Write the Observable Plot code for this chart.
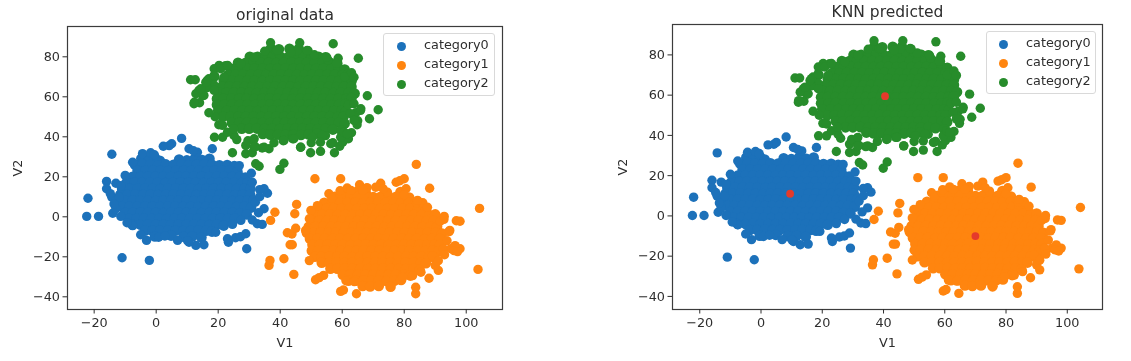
<!DOCTYPE html>
<html>
<head>
<meta charset="utf-8">
<script src="https://cdn.jsdelivr.net/npm/d3@7"></script>
<script src="https://cdn.jsdelivr.net/npm/@observablehq/plot@0.6"></script>
<style>
html,body{margin:0;padding:0;background:#fff}
#page{position:relative;width:1131px;height:361px;overflow:hidden;font-family:"DejaVu Sans",sans-serif;color:#2e2e2e;filter:blur(0.45px)}
#page svg.p{position:absolute;top:0}
.legend{position:absolute;box-sizing:border-box;background:#fff;border:1px solid #d9d9d9;border-radius:3px;font-size:12.8px;height:63px}
.legend div{position:absolute;line-height:14px;white-space:nowrap}
.legend i{position:absolute;width:9px;height:9px;border-radius:50%}
</style>
</head>
<body>
<div id="page"></div>
<script>
const categories = ["category0","category1","category2"];
const colors = ["#1c71ba","#ff850f","#278c2b"];
const xTicks = [-20,0,20,40,60,80,100];
const yTicks = [-40,-20,0,20,40,60,80];
const centers = [[9.5,11],[70,-10],[40.5,59.5]];

const blueEdge = [[-22,9.3],[-22.4,0.2],[-18.6,0.2],[-14.3,31.3],[-11,-20.5],[-2.2,-21.8],[29.2,-16],[8.2,39.2],[5,36.5],[4.2,35.6],[2.3,35.3],[-16,17.7],[-13,16.8],[-16,14],[-14.3,9.8],[-14.8,11.6],[-14,1.8],[-10,20.7],[-7.6,27.3],[-13,4],[-11.4,0.2],[-3.1,-11.8],[6.9,-11.8],[12.8,-14.3],[15.4,-14],[10.6,-12.7],[19.2,-7.7],[23.3,-12.7],[25.6,-10.5],[27.2,-10],[28.9,-8.5],[24.6,-3.8],[27.3,-1.8],[32.6,-3.5],[34.2,-3.8],[34.8,4],[32,7.3],[35.9,11.8],[34.8,14],[33.4,13.6],[31,17.3],[30.7,21.8],[18.1,34],[10.6,34],[13.3,32.3],[12,33],[-4.4,31.6],[-1.8,32],[-0.6,31],[-11.4,15.6],[-11.9,9.8],[-7.6,-4.4],[0.8,-10.2],[10.1,-11.9],[26.8,25.6],[-13.6,6.4],[-9.4,-3],[33,2],[31,-1.6],[33.4,10],[2.8,-9.6],[-5,-9],[23,-11]];
const blueCore = [
[-4.8,29],[-2.5,29.6],[-0.3,29.3],[1.2,28],[7.4,28.6],[9.9,28.2],[12.4,29],[14.8,28.4],[17.2,29],
[-6.8,26],[-4.3,26.3],[-1.9,26],[0.6,25.8],[3.1,26.2],[5.6,26],[8.1,26.1],[10.5,25.9],[13,26],[15.5,26.2],[18,26],[20.4,25.8],[22.9,25.9],[25.2,25.4],
[-6,23],[-3.5,23],[-1,23.1],[1.4,23],[3.9,22.9],[6.4,23],[8.9,23.1],[11.3,23],[13.8,23],[16.3,22.9],[18.8,23],[21.2,23.1],[23.7,23],[26.2,22.8],
[-7.6,20],[-5.1,20],[-2.6,20.1],[-0.2,20],[2.3,20],[4.8,19.9],[7.2,20],[9.7,20.1],[12.2,20],[14.6,20],[17.1,19.9],[19.6,20],[22,20.1],[24.5,20],[27,20],[28.8,19.6],
[-9.6,17],[-7,17],[-4.5,17.1],[-2,17],[0.5,17],[3,16.9],[5.4,17],[7.9,17.1],[10.4,17],[12.8,17],[15.3,16.9],[17.8,17],[20.2,17.1],[22.7,17],[25.2,17],[27.6,16.9],[29.4,17],
[-11,14],[-8.5,14],[-6,14.1],[-3.6,14],[-1.1,14],[1.4,13.9],[3.8,14],[6.3,14.1],[8.8,14],[11.2,14],[13.7,13.9],[16.2,14],[18.6,14.1],[21.1,14],[23.6,14],[26,13.9],[28.5,14],[30.4,14],
[-11.6,11],[-9.2,11],[-6.7,11.1],[-4.2,11],[-1.8,11],[0.7,10.9],[3.2,11],[5.6,11.1],[8.1,11],[10.6,11],[13,10.9],[15.5,11],[18,11.1],[20.4,11],[22.9,11],[25.4,10.9],[27.8,11],[30.3,11],
[-12.2,8],[-10,8],[-7.5,8.1],[-5,8],[-2.6,8],[-0.1,7.9],[2.4,8],[4.8,8.1],[7.3,8],[9.8,8],[12.2,7.9],[14.7,8],[17.2,8.1],[19.6,8],[22.1,8],[24.6,7.9],[27,8],[29.5,8],[31.4,8.2],
[-11,5],[-8.6,5],[-6.1,5.1],[-3.6,5],[-1.2,5],[1.3,4.9],[3.8,5],[6.2,5.1],[8.7,5],[11.2,5],[13.6,4.9],[16.1,5],[18.6,5.1],[21,5],[23.5,5],[26,4.9],[28.4,5],[30.6,4.6],
[-10,2],[-7.5,2],[-5,2.1],[-2.6,2],[-0.1,2],[2.4,1.9],[4.8,2],[7.3,2.1],[9.8,2],[12.2,2],[14.7,1.9],[17.2,2],[19.6,2.1],[22.1,2],[24.6,2],[27,1.6],[29.2,1.2],
[-8.8,-1],[-6.4,-1],[-3.9,-0.9],[-1.4,-1],[1,-1],[3.5,-1.1],[6,-1],[8.4,-0.9],[10.9,-1],[13.4,-1],[15.8,-1.1],[18.3,-1],[20.8,-0.9],[23.2,-1],[25.4,-0.8],
[-7.6,-4],[-5,-4],[-2.6,-3.9],[-0.1,-4],[2.4,-4],[4.8,-4.1],[7.3,-4],[9.8,-3.9],[12.2,-4],[14.7,-4],[17.2,-4.1],[19.6,-4],[21.8,-4.4],
[-3.6,-7],[-1.2,-7],[1.3,-6.9],[3.8,-7],[6.2,-7],[8.7,-7.1],[11.2,-7],[13.6,-6.9],[16.1,-7],[18,-7.4],
[-0.4,-9.8],[4.8,-9.4],[8.8,-10],[11.6,-9.8],[14.6,-10.4]
];
const orangeEdge = [[83.9,26.2],[51.2,19],[59.5,19],[88.2,14.3],[104.3,4.2],[103.8,-26.3],[83.7,-38.5],[83.7,-35.2],[64.6,-38.5],[59.5,-37.3],[60.4,-36.6],[88,-30.7],[44.4,-28.8],[36.4,-24.3],[36.7,-21.8],[41.2,-21],[43.9,-14],[43.2,-14],[42.3,-8],[43.8,-8.6],[45,-5.7],[44.7,1.5],[45.3,6.2],[38.3,2.3],[36.9,-1.8],[98,-2.2],[96.8,-2],[94.7,-6.8],[92.8,-1.3],[91.6,-2.2],[98,-16],[95,-16],[96.4,-14.4],[91,-26.8],[90,-24.3],[80,19],[77.4,17.3],[78.6,18],[72.4,16.8],[70.8,14.8],[74.6,12.3],[73.2,14],[55.7,11.5],[56.6,9.4],[59.3,13],[48.2,-6.8],[51.4,-31.5],[54,-29.3],[52.6,-30.4],[80.6,14],[80,11],[84,7],[86,7],[65.6,16],[61.6,14.4],[68,14.6],[93.8,-12],[92.6,-16],[52,5.6],[49.9,3.2],[49.4,-1],[49.4,-21.9],[61.2,-31.9],[63.9,-32.4],[79.5,-30.2],[82.7,-29.4],[85.4,-27.7],[89.1,-19.4],[96.1,-16.9],[94.5,-7.4],[92.9,0.2],[87.5,4.8],[84.3,8.2],[66.6,13.2],[62.8,13.2],[97.2,-17.4],[93,-19],[91,-22]];
const orangeCore = [
[60.4,12.4],[62.8,12.2],[65.2,13],[67.6,12],[78.8,12.4],
[57.6,10],[60.1,10],[62.6,10.1],[65,10],[67.5,10],[70,9.9],[72.4,10],[74.9,10.1],[77.4,10],[79.8,10],[81.6,9.6],
[54.2,7],[56.8,7],[59.3,7.1],[61.8,7],[64.2,7],[66.7,6.9],[69.2,7],[71.6,7.1],[74.1,7],[76.6,7],[79,6.9],[81.5,7],[83.6,6.6],
[52.4,4],[54.9,4],[57.4,4.1],[59.8,4],[62.3,4],[64.8,3.9],[67.2,4],[69.7,4.1],[72.2,4],[74.6,4],[77.1,3.9],[79.6,4],[82,4.1],[84.5,4],[87,3.8],
[51.2,1],[53.6,1],[56.1,1.1],[58.6,1],[61,1],[63.5,0.9],[66,1],[68.4,1.1],[70.9,1],[73.4,1],[75.8,0.9],[78.3,1],[80.8,1.1],[83.2,1],[85.7,1],[88.2,0.9],[90,1.2],
[50.2,-2],[52.6,-2],[55.1,-1.9],[57.6,-2],[60,-2],[62.5,-2.1],[65,-2],[67.4,-1.9],[69.9,-2],[72.4,-2],[74.8,-2.1],[77.3,-2],[79.8,-1.9],[82.2,-2],[84.7,-2],[87.2,-2.1],[89.6,-2],
[49.2,-5],[51.4,-5],[53.9,-4.9],[56.4,-5],[58.8,-5],[61.3,-5.1],[63.8,-5],[66.2,-4.9],[68.7,-5],[71.2,-5],[73.6,-5.1],[76.1,-5],[78.6,-4.9],[81,-5],[83.5,-5],[86,-5.1],[88.4,-5],[90.6,-5],
[48.6,-8],[50.6,-8],[53.1,-7.9],[55.6,-8],[58,-8],[60.5,-8.1],[63,-8],[65.4,-7.9],[67.9,-8],[70.4,-8],[72.8,-8.1],[75.3,-8],[77.8,-7.9],[80.2,-8],[82.7,-8],[85.2,-8.1],[87.6,-8],[90.1,-8],[92.2,-8.4],
[49.6,-11],[52,-11],[54.5,-10.9],[57,-11],[59.4,-11],[61.9,-11.1],[64.4,-11],[66.8,-10.9],[69.3,-11],[71.8,-11],[74.2,-11.1],[76.7,-11],[79.2,-10.9],[81.6,-11],[84.1,-11],[86.6,-11.1],[89,-11],[91.5,-11],
[50.4,-14],[52.8,-14],[55.3,-13.9],[57.8,-14],[60.2,-14],[62.7,-14.1],[65.2,-14],[67.6,-13.9],[70.1,-14],[72.6,-14],[75,-14.1],[77.5,-14],[80,-13.9],[82.4,-14],[84.9,-14],[87.4,-14.1],[89.8,-14],[91.6,-14],
[50.2,-17],[52.2,-17],[54.7,-16.9],[57.2,-17],[59.6,-17],[62.1,-17.1],[64.6,-17],[67,-16.9],[69.5,-17],[72,-17],[74.4,-17.1],[76.9,-17],[79.4,-16.9],[81.8,-17],[84.3,-17],[86.8,-17.1],[89.2,-17],[91,-17.4],
[51.2,-20],[53.4,-20],[55.9,-19.9],[58.4,-20],[60.8,-20],[63.3,-20.1],[65.8,-20],[68.2,-19.9],[70.7,-20],[73.2,-20],[75.6,-20.1],[78.1,-20],[80.6,-19.9],[83,-20],[85.5,-20],[88,-20.1],[89.6,-20.4],
[53.4,-23],[55.8,-23],[58.3,-22.9],[60.8,-23],[63.2,-23],[65.7,-23.1],[68.2,-23],[70.6,-22.9],[73.1,-23],[75.6,-23],[78,-23.1],[80.5,-23],[83,-22.9],[85.4,-23],[87,-23.2],
[56.2,-26],[58.4,-26],[60.9,-25.9],[63.4,-26],[65.8,-26],[68.3,-26.1],[70.8,-26],[73.2,-25.9],[75.7,-26],[78.2,-26],[80.6,-26.1],[83.1,-26],[85,-26.6],
[60.2,-29],[62.6,-29],[65.1,-28.9],[67.6,-29],[70,-29],[72.5,-29.1],[75,-29],[77.4,-28.9],[79.9,-29],[82,-29.4],
[62,-32],[64.4,-32],[66.9,-31.9],[69.4,-32],[71.8,-32],[74.3,-32.1],[76.8,-32],[79,-31.6],
[66.6,-34.6],[69,-34.8],[71.8,-34.6],[75.6,-35]
];
const greenEdge = [[36.9,87],[46.3,87],[57.1,86.5],[65.2,79.3],[58.7,79.3],[68.1,60.5],[71.6,53.5],[68.8,49],[11.1,68.5],[12.6,68.5],[12.2,56.5],[14,57],[13.8,63.2],[15,60.5],[17,69],[19,70],[18.8,39.8],[21.4,39.8],[24.6,32],[28.9,35.7],[28.9,31.5],[31,32],[32.1,26.5],[33.2,25.3],[41.2,26.8],[39.9,23.7],[49.8,32],[53,32.7],[57.5,32],[59.2,35.3],[60.2,37.4],[46.6,34.8],[36.4,34],[34.2,34.4],[32,35],[31.2,38],[20.3,75.7],[22.4,75.6],[18.7,74],[35,82.8],[38.6,83],[45.4,83],[49,83],[51,81],[55.4,78.4],[60.8,70],[63,72],[62,39],[65,48],[64.4,52],[66,54],[62,56],[64.8,46],[63,42],[26,38.6],[29.6,38],[38,37],[41,38],[44,39],[50,37],[54.6,40.6],[57,37],[18.6,66],[16.4,64.6],[19,50],[20.2,46],[17,52],[25.1,40.7],[31.6,39],[34.8,34.8],[31.6,34.8],[41.2,38.2],[44.4,39],[46.6,34.8],[50.4,39.8],[53.6,40.7],[53,37.3],[56.3,36.5],[59.5,39.8],[60.6,42.3],[21.4,45.7],[23,42.3],[16.5,68.2],[18.7,70.7],[15.4,60.7],[18.7,63.2],[20.8,74],[23,75.7],[21.9,69.8],[63.8,69.8],[63.8,56.5],[62.7,51.5],[65.9,53.2],[63.8,48.2],[61.6,41.5],[58.2,76.8],[55,79.8],[48.7,83.2],[43.4,82.3],[39.1,83.2],[31.6,79.8],[27.3,76.5],[25,44],[12.8,61.5],[14.4,64],[12.3,57.3],[16,67.3]];
const greenCore = [
[37,84.2],[39.6,83.8],[43,84],[46,84],
[30.2,80],[32.7,80],[35.2,80.1],[37.6,80],[40.1,80],[42.6,79.9],[45,80],[47.5,80.1],[50,80],[52.4,80],[54.6,79.8],
[26.4,77],[28.9,77],[31.4,77.1],[33.8,77],[36.3,77],[38.8,76.9],[41.2,77],[43.7,77.1],[46.2,77],[48.6,77],[51.1,76.9],[53.6,77],[56,77.1],[58.4,76.8],
[24.4,74],[26.9,74],[29.4,74.1],[31.8,74],[34.3,74],[36.8,73.9],[39.2,74],[41.7,74.1],[44.2,74],[46.6,74],[49.1,73.9],[51.6,74],[54,74.1],[56.5,74],[59,74],[60.8,73.6],
[23.2,71],[25.6,71],[28.1,71.1],[30.6,71],[33,71],[35.5,70.9],[38,71],[40.4,71.1],[42.9,71],[45.4,71],[47.8,70.9],[50.3,71],[52.8,71.1],[55.2,71],[57.7,71],[60.2,70.9],[61.8,71],
[21.8,68],[24.4,68],[26.9,68.1],[29.4,68],[31.8,68],[34.3,67.9],[36.8,68],[39.2,68.1],[41.7,68],[44.2,68],[46.6,67.9],[49.1,68],[51.6,68.1],[54,68],[56.5,68],[59,67.9],[61.4,68],[63,67.8],
[21.2,65],[23.6,65],[26.1,65.1],[28.6,65],[31,65],[33.5,64.9],[36,65],[38.4,65.1],[40.9,65],[43.4,65],[45.8,64.9],[48.3,65],[50.8,65.1],[53.2,65],[55.7,65],[58.2,64.9],[60.6,65],[63,65],
[20.4,62],[22.6,62],[25.1,62.1],[27.6,62],[30,62],[32.5,61.9],[35,62],[37.4,62.1],[39.9,62],[42.4,62],[44.8,61.9],[47.3,62],[49.8,62.1],[52.2,62],[54.7,62],[57.2,61.9],[59.6,62],[62.1,62],[64,61.6],
[19.6,59],[21.8,59],[24.3,59.1],[26.8,59],[29.2,59],[31.7,58.9],[34.2,59],[36.6,59.1],[39.1,59],[41.6,59],[44,58.9],[46.5,59],[49,59.1],[51.4,59],[53.9,59],[56.4,58.9],[58.8,59],[61.3,59],[63,59.4],
[19.6,56],[22,56],[24.5,56.1],[27,56],[29.4,56],[31.9,55.9],[34.4,56],[36.8,56.1],[39.3,56],[41.8,56],[44.2,55.9],[46.7,56],[49.2,56.1],[51.6,56],[54.1,56],[56.6,55.9],[59,56],[61,56.4],
[20,53],[22.8,53],[25.3,53.1],[27.8,53],[30.2,53],[32.7,52.9],[35.2,53],[37.6,53.1],[40.1,53],[42.6,53],[45,52.9],[47.5,53],[50,53.1],[52.4,53],[54.9,53],[57.4,52.9],[59.8,53],[61.2,52.6],
[21.6,50],[24,50],[26.5,50.1],[29,50],[31.4,50],[33.9,49.9],[36.4,50],[38.8,50.1],[41.3,50],[43.8,50],[46.2,49.9],[48.7,50],[51.2,50.1],[53.6,50],[56.1,50],[58.6,49.9],[60.4,50],
[24.4,47],[26.8,47],[29.3,47.1],[31.8,47],[34.2,47],[36.7,46.9],[39.2,47],[41.6,47.1],[44.1,47],[46.6,47],[49,46.9],[51.5,47],[54,47.1],[56.4,47],[58.9,47],[60.8,46.6],
[27.6,44],[30,44],[32.5,44.1],[35,44],[37.4,44],[39.9,43.9],[42.4,44],[44.8,44.1],[47.3,44],[49.8,44],[52.2,43.9],[54.7,44],[57,43.6],[59.8,43],
[34.4,41.4],[36.8,41],[39.3,41.1],[41.8,41],[44.2,41],[46.7,40.9],[49.2,41.2],[52,41.6]
];

const edges = [blueEdge, orangeEdge, greenEdge];
const cores = [blueCore, orangeCore, greenCore];
const fmt = d => d < 0 ? "\u2212" + (-d) : "" + d;

function panel(o){
  const marks = categories.flatMap((c,i)=>[
    Plot.dot(cores[i],{x:d=>d[0],y:d=>d[1],r:5.3,fill:colors[i],stroke:"none"}),
    Plot.dot(edges[i],{x:d=>d[0],y:d=>d[1],r:4.7,fill:colors[i],stroke:"none"})
  ]);
  if(o.centers) marks.push(Plot.dot(centers,{x:d=>d[0],y:d=>d[1],r:3.9,fill:"#e53a2b",stroke:"none"}));
  marks.push(
    Plot.frame({stroke:"#3c3c3c",strokeWidth:1.2}),
    Plot.axisX({ticks:xTicks,tickSize:4.5,tickPadding:4,label:"V1",labelAnchor:"center",labelArrow:"none",labelOffset:37,fontSize:12.8,tickFormat:fmt}),
    Plot.axisY({ticks:yTicks,tickSize:4.5,tickPadding:3,label:"V2",labelAnchor:"center",labelArrow:"none",labelOffset:o.yLabelOffset,fontSize:12.8,tickFormat:fmt}),
    Plot.text([o.title],{frameAnchor:"top",dy:o.titleDy,fontSize:15.5,text:d=>d,fill:"#2e2e2e"})
  );
  const svg = Plot.plot({
    width:o.width,height:361,
    marginLeft:o.ml,marginRight:o.mr,marginTop:o.mt,marginBottom:o.mb,
    x:{domain:o.xd},y:{domain:o.yd},
    style:{fontFamily:'"DejaVu Sans",sans-serif',fontSize:"12.8px",color:"#2e2e2e",background:"transparent",overflow:"visible"},
    marks
  });
  svg.classList.add("p");
  svg.style.left=o.left+"px";
  return svg;
}
function legend(left,top,width,markerLeft,textLeft){
  const box=document.createElement("div");
  box.className="legend";box.style.left=left+"px";box.style.top=top+"px";box.style.width=width+"px";
  categories.forEach((c,i)=>{
    const m=document.createElement("i");m.style.background=colors[i];m.style.left=markerLeft+"px";m.style.top=(7.5+i*19.2)+"px";
    const t=document.createElement("div");t.textContent=c;t.style.left=textLeft+"px";t.style.top=(4+i*19.2)+"px";
    box.append(m,t);
  });
  return box;
}
const page=document.getElementById("page");
page.append(
  panel({title:"original data",left:0,width:520,ml:67,mr:18,mt:26,mb:52,xd:[-28.6,111.7],yd:[-46.35,95.15],yLabelOffset:55,titleDy:-18}),
  panel({title:"KNN predicted",left:600,width:531,ml:72,mr:29,mt:24,mb:52,xd:[-28.9,111.5],yd:[-46.5,95.1],yLabelOffset:55,titleDy:-19,centers:true}),
  legend(383,33,112,13,40),legend(986,31,110,12,39)
);
</script>
</body>
</html>
